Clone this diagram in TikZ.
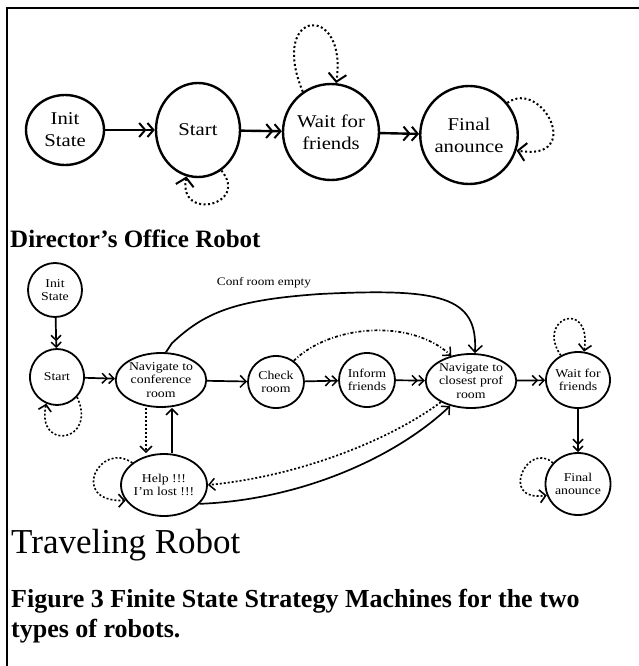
\documentclass[tikz,border=0pt]{standalone}
\usepackage{fontspec}
\setmainfont{Liberation Serif}
\newfontfamily\nodefont[FakeStretch=1.15]{Liberation Serif}
\usetikzlibrary{arrows.meta,shapes.geometric}
\begin{document}
\begin{tikzpicture}[x=1pt,y=-1pt,
  big/.style={ellipse,draw,line width=2.4pt,inner sep=0pt,align=center,font=\nodefont\fontsize{18}{22}\selectfont},
  small/.style={ellipse,draw,line width=1.8pt,inner sep=0pt,align=center,font=\nodefont\fontsize{12}{13.5}\selectfont},
  bigarr/.style={line width=2.4pt,-{Straight Barb[length=6pt,width=14pt,line width=2pt]Straight Barb[length=6pt,width=14pt,line width=2pt]}},
  smallarr/.style={line width=1.7pt,-{Straight Barb[length=5pt,width=10pt,line width=1.5pt]Straight Barb[length=5pt,width=10pt,line width=1.5pt]}},
  single/.style={line width=1.7pt,-{Straight Barb[length=6pt,width=12pt,line width=1.5pt]}},
  bigloop/.style={line width=2pt,dash pattern=on 2pt off 2.5pt,-{Straight Barb[length=8pt,width=18pt,line width=2pt]}},
  smallloop/.style={line width=1.6pt,dash pattern=on 2pt off 2pt,-{Straight Barb[length=6pt,width=13pt,line width=1.6pt]}},
  dotarr/.style={line width=1.7pt,dash pattern=on 2pt off 2pt,-{Straight Barb[length=6pt,width=12pt,line width=1.5pt]}},
  dasharr/.style={line width=1.7pt,dash pattern=on 3pt off 2pt on 1pt off 2pt,-{Straight Barb[length=6pt,width=12pt,line width=1.5pt]}},
  heading/.style={anchor=base west,inner sep=0pt}
]
\useasboundingbox (0,0) rectangle (638,666);
% frame
\draw[line width=2pt] (7,666) -- (7,8) -- (640,8);

% ---------- Director's Office Robot ----------
\node[big,minimum width=78,minimum height=70] (i1) at (65,130) {Init\\State};
\node[big,minimum width=84,minimum height=94] (s1) at (198,130) {Start};
\node[big,minimum width=80,minimum height=96] (w1) at (331,132) {Wait for\\friends};
\node[big,minimum width=78,minimum height=98] (f1) at (469,135) {Final\\anounce};

\draw[bigarr] (i1) -- (s1);
\draw[bigarr] (s1) -- (w1);
\draw[bigarr] (w1) -- (f1);

\draw[bigloop] (s1.-60) .. controls (250,205) and (178,222) .. (s1.-104);
\draw[bigloop] (w1.125) .. controls (268,8) and (348,2) .. (w1.84);
\draw[bigloop] (f1.40) .. controls (542,78) and (585,162) .. (f1.-18);

\node[heading,font=\bfseries\fontsize{25}{30}\selectfont] (h1) at (10,247) {Director’s Office Robot};

% ---------- Traveling Robot ----------
\node[small,minimum width=54,minimum height=54] (i2) at (55,290) {Init\\State};
\node[small,minimum width=54,minimum height=56] (s2) at (57,377) {Start};
\node[small,minimum width=86,minimum height=54] (nc) at (161,380) {Navigate to\\conference\\room};
\node[small,minimum width=56,minimum height=52] (ck) at (276,382) {Check\\room};
\node[small,minimum width=56,minimum height=54] (inf) at (367,380) {Inform\\friends};
\node[small,minimum width=88,minimum height=54] (np) at (471,381) {Navigate to\\closest prof\\room};
\node[small,minimum width=54,minimum height=56] (w2) at (578,380) {Wait for\\friends};
\node[small,minimum width=56,minimum height=62] (f2) at (578,484) {Final\\anounce};
\node[small,minimum width=86,minimum height=62] (hp) at (164,485) {Help !!!\\I’m lost !!!};

\draw[smallarr] (i2) -- (s2);
\draw[smallarr] (s2) -- (nc);
\draw[single] (nc) -- (ck);
\draw[smallarr] (ck) -- (inf);
\draw[smallarr] (inf) -- (np);
\draw[smallarr] (np) -- (w2);
\draw[smallarr] (w2) -- (f2);

\draw[dotarr] (nc.south -| 146,0) -- (hp.north -| 146,0);
\draw[single] (hp.north -| 172,0) -- (nc.south -| 172,0);

\draw[line width=1.7pt,-{Straight Barb[length=7pt,width=14pt,line width=1.5pt]}]
  (nc.80) -- ++(6,-9) .. controls (205,312) and (235,300) .. (320,294)
  .. controls (440,288) and (478,296) .. (np.82);
\node[font=\nodefont\fontsize{11.5}{13}\selectfont,inner sep=1pt] (lbl) at (264,283) {Conf room empty};

\draw[dasharr] (ck.50) .. controls (330,325) and (410,318) .. (np.128);
\draw[dotarr] (np.215) .. controls (390,440) and (300,476) .. (hp.east);
\draw[single] (hp.-28) .. controls (300,500) and (395,458) .. (np.-130);

\draw[smallloop] (s2.-45) .. controls (98,442) and (36,452) .. (s2.-112);
\draw[smallloop] (hp.145) .. controls (100,440) and (68,502) .. (hp.-158);
\draw[smallloop] (w2.125) .. controls (535,318) and (592,298) .. (w2.78);
\draw[smallloop] (f2.140) .. controls (528,440) and (498,502) .. (f2.-160);

\node[heading,font=\fontsize{35}{40}\selectfont] (h2) at (11,553) {Traveling Robot};
\node[heading,font=\bfseries\fontsize{26}{30}\selectfont] (c1) at (11,607) {Figure 3 Finite State Strategy Machines for the two};
\node[heading,font=\bfseries\fontsize{26}{30}\selectfont] (c2) at (11,637) {types of robots.};
\end{tikzpicture}
\end{document}
